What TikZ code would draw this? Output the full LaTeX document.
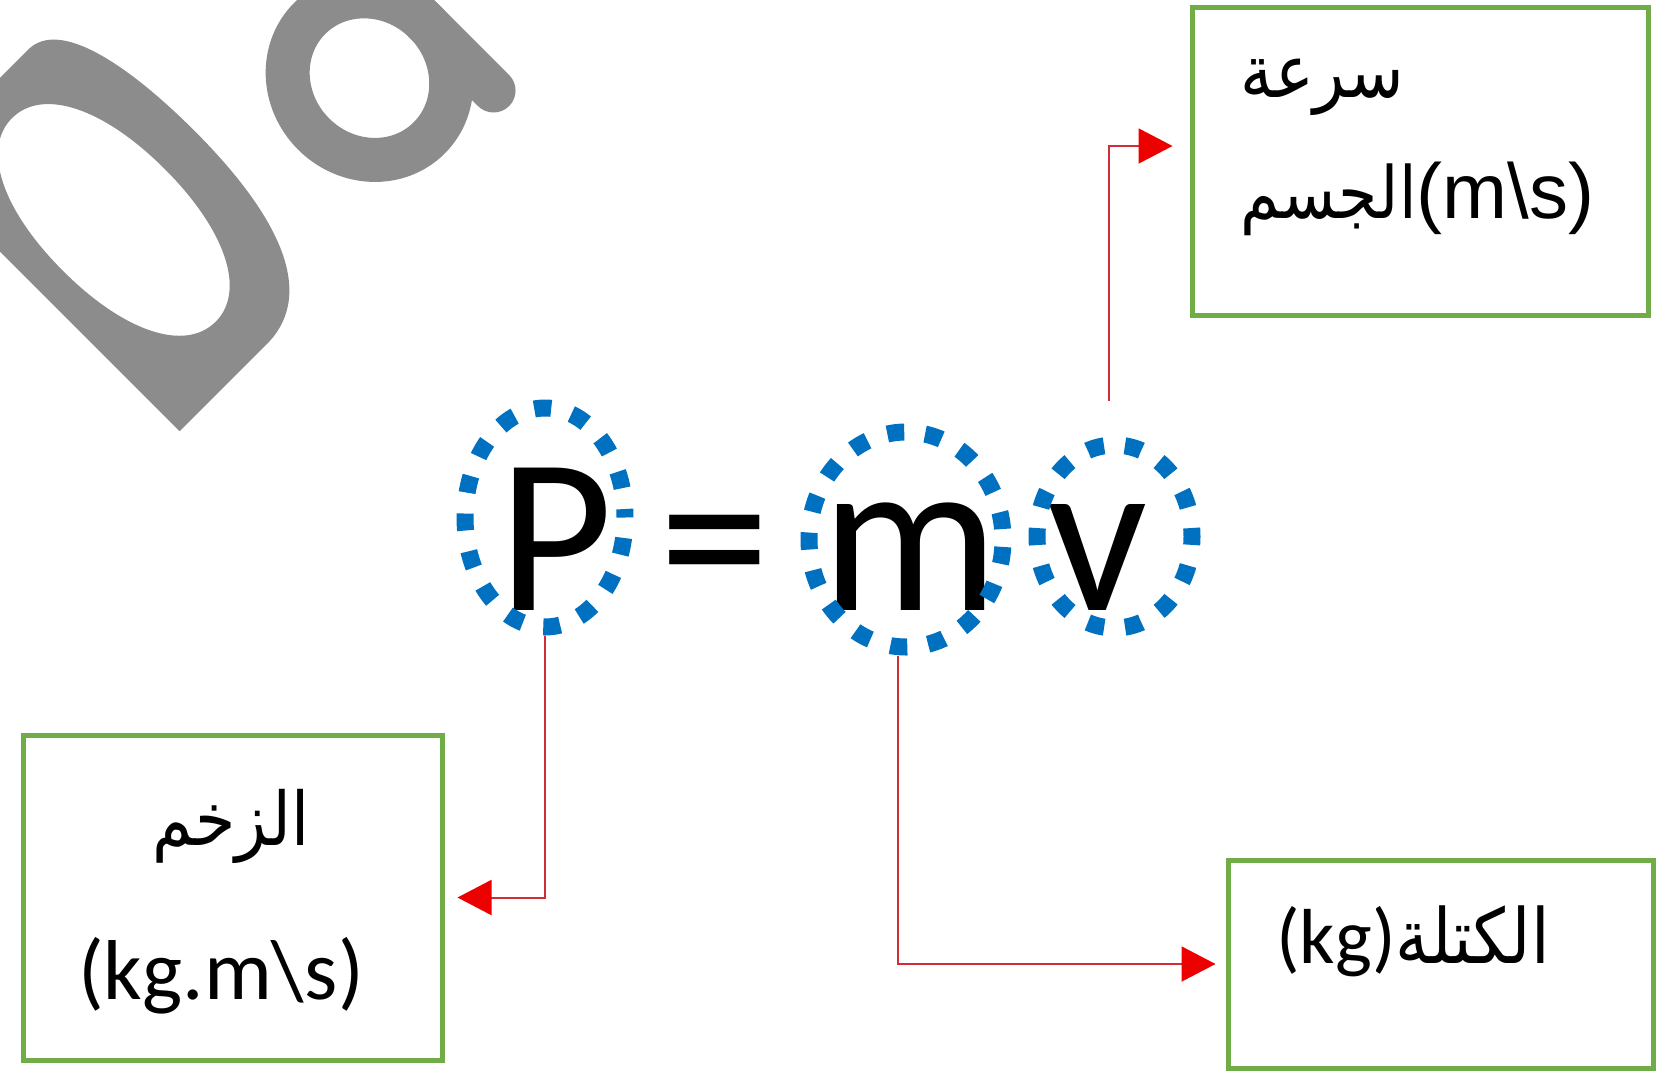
\documentclass[tikz,border=0pt]{standalone}
\usepackage{fontspec}
\setmainfont{Carlito}
\newfontfamily\arialf{Liberation Sans}
\newfontfamily\arabicfont[Script=Arabic,FakeStretch=0.88]{DejaVu Sans}
\TeXXeTstate=1
\usetikzlibrary{shapes.geometric,arrows.meta}
\definecolor{boxgreen}{HTML}{70AD47}
\definecolor{dotblue}{HTML}{0070C0}
\definecolor{linered}{RGB}{210,45,55}
\definecolor{tipred}{RGB}{236,0,0}
\definecolor{wmgray}{RGB}{140,140,140}
\tikzset{
  infobox/.style={draw=boxgreen,line width=5pt,rectangle,inner sep=0pt},
  ring/.style={draw=dotblue,ellipse,inner sep=0pt,line width=17pt,dash pattern=on 17pt off 21pt,dash phase=8.5pt},
  conn/.style={draw=linered,line width=2pt,-{Triangle[length=34pt,width=35pt,color=tipred]}},
  eqtext/.style={anchor=base,inner sep=0pt,font=\fontsize{222}{222}\selectfont},
  lbl/.style={inner sep=0pt},
}
\begin{document}
\begin{tikzpicture}[x=1pt,y=-1pt]
\useasboundingbox[fill=white] (0,0) rectangle (1676,1072);
% watermark
\begin{scope}
\clip (0,0) rectangle (1676,1072);
\begin{scope}[x={(0.7071pt,-0.7071pt)},y={(0.7071pt,0.7071pt)}]
\fill[wmgray,even odd rule] (55,-178) -- (55,-15) .. controls (55,30) and (140,45) .. (230,45) .. controls (330,45) and (432,25) .. (432,-55) -- (432,-178) -- cycle
  (92,-75) .. controls (92,-31.8) and (149.6,-3) .. (236,-3) .. controls (322.4,-3) and (380,-31.8) .. (380,-75) .. controls (380,-118.2) and (322.4,-147) .. (236,-147) .. controls (149.6,-147) and (92,-118.2) .. (92,-75) -- cycle;
\draw[wmgray,line width=44pt,line cap=round] (200,285) -- (413,285);
\draw[wmgray,line width=44pt] (232,206) .. controls (232,249.6) and (269.8,285) .. (316.5,285) .. controls (363.2,285) and (401,249.6) .. (401,206) .. controls (401,162.4) and (363.2,127) .. (316.5,127) .. controls (269.8,127) and (232,162.4) .. (232,206) -- cycle;
\end{scope}
\end{scope}
% boxes
\node[infobox,minimum width=456pt,minimum height=308pt] (boxV) at (1420,161) {};
\node[infobox,minimum width=419pt,minimum height=325pt] (boxP) at (232.5,897.5) {};
\node[infobox,minimum width=425pt,minimum height=208pt] (boxM) at (1440.5,964) {};
% equation
\node[eqtext] (tP) at (556,610) {P};
\node[eqtext] (tEq) at (715,610) {=};
\node[eqtext] (tM) at (910,610) {m};
\node[eqtext] (tV) at (1098,610) {v};
\node[ring,minimum width=160pt,minimum height=219pt] (Pe) at (545,517.5) {};
\node[ring,minimum width=194pt,minimum height=215pt,dash phase=27.5pt] (me) at (906,539.5) {};
\node[ring,minimum width=155pt,minimum height=183pt] (vE) at (1114.5,536.5) {};
% labels
\node[lbl,anchor=base west,font=\arabicfont\fontsize{74}{74}\selectfont] (vt1) at (1240,97) {\beginR سرعة\endR};
\node[lbl,anchor=base west] (vt2) at (1240,218) {{\arabicfont\fontsize{72}{72}\selectfont\beginR الجسم\endR}{\arialf\fontsize{78}{78}\selectfont(m\textbackslash s)}};
\node[lbl,anchor=base,font=\arabicfont\fontsize{74}{74}\selectfont] (pt1) at (231,845) {\beginR الزخم\endR};
\node[lbl,anchor=base,font=\fontsize{85}{85}\selectfont] (pt2) at (221,999) {(kg.m\textbackslash s)};
\node[lbl,anchor=base] (mt) at (1413,963) {{\fontsize{78}{78}\selectfont(kg)}{\arabicfont\fontsize{76}{76}\selectfont\beginR الكتلة\endR}};
% connectors
\draw[conn,shorten >=13pt] (Pe.south) |- (boxP.east);
\draw[conn,shorten >=10pt] ([xshift=-8pt]me.south) |- (boxM.west);
\coordinate (vstart) at ([xshift=-6pt,yshift=36pt]vE.north);
\draw[conn,shorten >=17pt] (vstart) |- ([yshift=15pt]boxV.west);
\end{tikzpicture}
\end{document}
